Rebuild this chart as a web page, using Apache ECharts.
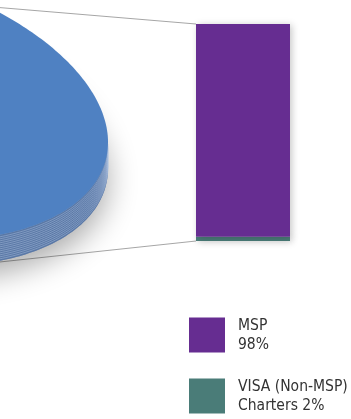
<!DOCTYPE html>
<html>
<head>
<meta charset="utf-8">
<script src="https://cdn.jsdelivr.net/npm/echarts@6/dist/echarts.min.js"></script>
<style>
  html, body { margin: 0; padding: 0; background: #ffffff; }
  #chart { width: 351px; height: 419px; }
</style>
</head>
<body>
<div id="chart"></div>
<script>
// ---- data ----
// Pie: the large slice (the split-out share is shown as the stacked bar)
const pieShares = [100];
const pieColors = ['#4f81c2'];

// Stacked bar: breakdown of the split-out share (percent)
const barCategories = ['Charters'];
const barNames = ['MSP', 'VISA (Non-MSP) Charters'];
const barValues = [98, 2];
const barColors = ['#662d91', '#4a7c78'];
const legendFirstLines = ['MSP', 'VISA (Non-MSP)'];
const legendSecondPrefix = ['', 'Charters '];

// ---- layout ----
const W = 351, H = 419;
const BAR_GRID = { left: 196, top: 24, width: 94, height: 217 };
// 3-D pie drawn in the pixel-space plane of the second grid
const PIE = { cx: -140, cy: 100, rx: 248, ry: 134.5, shear: 0.17, depth: 26 };
const TOP_ANCHOR_T = -58.9 * Math.PI / 180;   // rim point the upper connector meets
const BOTTOM_ANCHOR_T = 61 * Math.PI / 180;   // lower rim point of the pie edge

function rim(t, dz) {
  const c = Math.cos(t), s = Math.sin(t);
  return [PIE.cx + PIE.rx * c, PIE.cy + PIE.ry * s + PIE.shear * PIE.rx * c + (dz || 0)];
}

const pieTotal = pieShares.reduce((a, b) => a + b, 0);
const sliceStart = [];
{
  let acc = 0;
  pieShares.forEach(v => { sliceStart.push(acc); acc += v; });
}

function arcPoints(api, a0, a1, dz) {
  const pts = [];
  const n = Math.max(8, Math.ceil((a1 - a0) / (Math.PI / 180)));
  for (let i = 0; i <= n; i++) {
    const t = a0 + (a1 - a0) * i / n;
    pts.push(api.coord(rim(t, dz)));
  }
  return pts;
}

function renderPieSlice(params, api) {
  const i = params.dataIndex;
  const a0 = sliceStart[i] / pieTotal * Math.PI * 2;
  const a1 = (sliceStart[i] + pieShares[i]) / pieTotal * Math.PI * 2;
  const children = [];
  const full = (a1 - a0) >= Math.PI * 2 - 1e-9;

  // front wall: the part of the rim that faces the viewer (0..PI)
  const s0 = Math.max(a0, 0), s1 = Math.min(a1, Math.PI);
  if (s1 > s0) {
    const topEdge = arcPoints(api, s0, s1, 0);
    const botEdge = arcPoints(api, s0, s1, PIE.depth).reverse();
    // soft drop shadow under the pie
    children.push({
      type: 'polygon',
      shape: { points: arcPoints(api, 0, Math.PI * 2, PIE.depth) },
      style: {
        fill: '#8a9cb8',
        shadowBlur: 30,
        shadowOffsetY: 12,
        shadowOffsetX: 0,
        shadowColor: 'rgba(0,0,0,0.33)'
      }
    });
    children.push({
      type: 'polygon',
      shape: { points: topEdge.concat(botEdge) },
      style: { fill: '#5a78a6' }
    });
    for (let d = 2; d < PIE.depth; d += 2) {
      children.push({
        type: 'polyline',
        shape: { points: arcPoints(api, s0, s1, d) },
        style: { stroke: 'rgba(170,192,224,0.6)', lineWidth: 0.8, fill: null }
      });
    }
  }

  // top face
  let face = arcPoints(api, a0, a1, 0);
  if (!full) face = [api.coord([PIE.cx, PIE.cy])].concat(face);
  children.push({
    type: 'polygon',
    shape: { points: face },
    style: { fill: pieColors[i % pieColors.length] }
  });

  return { type: 'group', children: children };
}

const chart = echarts.init(document.getElementById('chart'), null, { renderer: 'canvas' });

const barSeries = [];
// stacking order: bottom segment first
for (let k = barNames.length - 1; k >= 0; k--) {
  barSeries.push({
    name: barNames[k],
    type: 'bar',
    xAxisIndex: 0,
    yAxisIndex: 0,
    stack: 'share',
    barWidth: '100%',
    data: [barValues[k]],
    itemStyle: {
      color: barColors[k],
      shadowBlur: 7,
      shadowOffsetX: 2,
      shadowOffsetY: 1,
      shadowColor: 'rgba(0,0,0,0.22)'
    },
    silent: true,
    z: 3
  });
}

chart.setOption({
  animation: false,
  backgroundColor: '#ffffff',
  grid: [
    { left: BAR_GRID.left, top: BAR_GRID.top, width: BAR_GRID.width, height: BAR_GRID.height },
    { left: 0, top: 0, width: W, height: H }
  ],
  xAxis: [
    { type: 'category', gridIndex: 0, data: barCategories, show: false },
    { type: 'value', gridIndex: 1, min: 0, max: W, show: false }
  ],
  yAxis: [
    { type: 'value', gridIndex: 0, min: 0, max: 100, show: false },
    { type: 'value', gridIndex: 1, min: 0, max: H, inverse: true, show: false }
  ],
  legend: {
    orient: 'vertical',
    left: 189,
    top: 316,
    height: 102,
    padding: 0,
    itemWidth: 36,
    itemHeight: 35,
    itemGap: 23,
    selectedMode: false,
    data: barNames.map(n => ({ name: n, icon: 'rect' })),
    itemStyle: { borderWidth: 0, shadowBlur: 0, shadowColor: 'transparent' },
    formatter: function (name) {
      const k = barNames.indexOf(name);
      return legendFirstLines[k] + '\n' + legendSecondPrefix[k] + barValues[k] + '%';
    },
    textStyle: {
      fontFamily: '"DejaVu Sans Condensed", "DejaVu Sans", sans-serif',
      fontSize: 15.5,
      lineHeight: 19,
      color: '#333333',
      padding: [0, 0, 0, 8]
    }
  },
  series: [
    {
      type: 'custom',
      name: 'pie',
      xAxisIndex: 1,
      yAxisIndex: 1,
      data: pieShares.map(v => [v]),
      renderItem: renderPieSlice,
      clip: false,
      silent: true,
      z: 2
    }
  ].concat(barSeries)
});

// connector lines from the pie to the top and bottom corners of the stacked bar
const total = barValues.reduce((a, b) => a + b, 0);
const barTopY = chart.convertToPixel({ yAxisIndex: 0 }, total);
const barBotY = chart.convertToPixel({ yAxisIndex: 0 }, 0);
const barLeftX = BAR_GRID.left;
const topAnchor = chart.convertToPixel({ gridIndex: 1 }, rim(TOP_ANCHOR_T, 0));
const botAnchor = chart.convertToPixel({ gridIndex: 1 }, rim(BOTTOM_ANCHOR_T, PIE.depth));

chart.setOption({
  graphic: [
    {
      type: 'line', z: 1, silent: true,
      shape: { x1: topAnchor[0], y1: topAnchor[1], x2: barLeftX, y2: barTopY },
      style: { stroke: '#a6a6a6', lineWidth: 1 }
    },
    {
      type: 'line', z: 1, silent: true,
      shape: { x1: botAnchor[0], y1: botAnchor[1], x2: barLeftX, y2: barBotY },
      style: { stroke: '#a6a6a6', lineWidth: 1 }
    }
  ]
});
</script>
</body>
</html>
